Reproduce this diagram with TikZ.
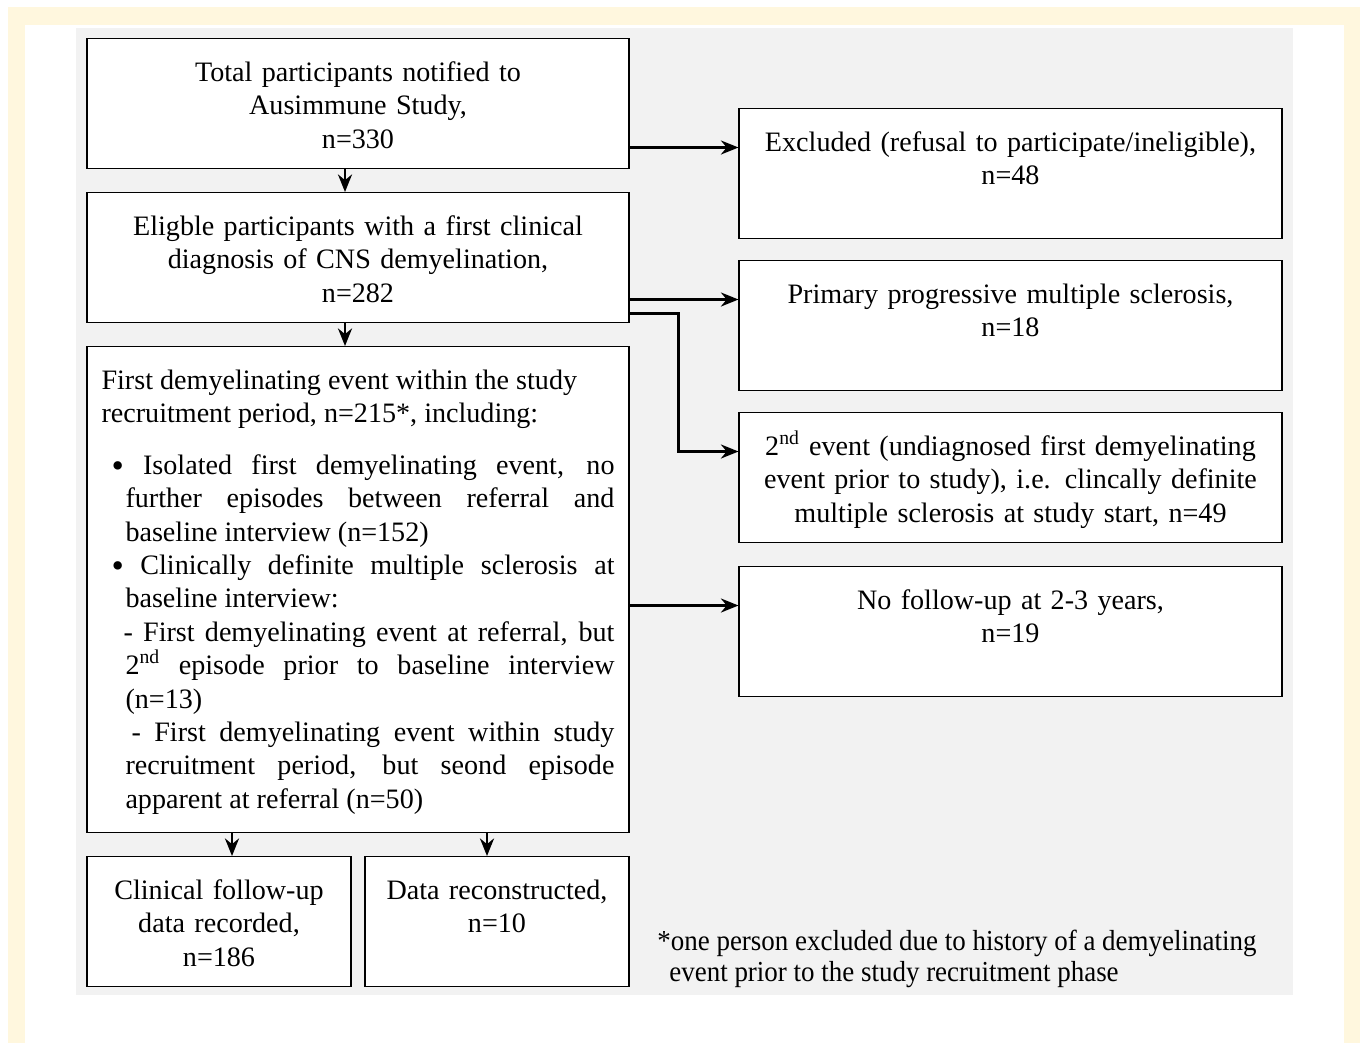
\documentclass[tikz,border=0pt]{standalone}
\usepackage{fontspec}
\setmainfont{Liberation Serif}
\newfontfamily\notefont[FakeStretch=0.93]{Liberation Serif}
\usetikzlibrary{arrows.meta}
\definecolor{cream}{RGB}{255,247,222}
\definecolor{panel}{RGB}{242,242,242}

\begin{document}
\begin{tikzpicture}
	\tikzstyle{Box} = [rectangle, draw=black, semithick, fill=white, anchor=north, inner xsep=0.29cm, inner ysep=0pt, text height=0.86cm, text depth=1.74cm, align=center, font=\fontsize{16}{19}\selectfont]
	\tikzstyle{arrow} = [line width=1.4pt,-{Stealth[length=10pt,width=8pt]}]
	
	\useasboundingbox (0,0) rectangle (27.2,-20.86);
	\fill[cream] (0.16,-0.14) rectangle (27.2,-20.86);
	\fill[white] (0.5,-0.5) rectangle (26.88,-20.86);
	\fill[panel] (1.52,-0.56) rectangle (25.86,-19.9);
	
	% left column
	\node (a) [Box, text width=10.26cm] at (7.16,-0.76) {Total participants notified to\\Ausimmune Study,\\n=330};
	\node (b) [Box, text width=10.26cm] at (7.16,-3.84) {Eligble participants with a first clinical\\diagnosis of CNS demyelination,\\n=282};
	\node (c) [Box, text width=10.26cm, text depth=8.86cm, align=justify] at (7.16,-6.92) {%
		\noindent First demyelinating event within the study\newline recruitment period, n=215*, including:\par
		\vspace{0.36cm}
		\noindent\hangindent=0.48cm\hangafter=1\hspace*{0.2cm}\raisebox{-0.1em}{\scalebox{1.25}{\textbullet}}\ Isolated first demyelinating event, no\linebreak further episodes between referral and\linebreak baseline interview (n=152)\par
		\noindent\hangindent=0.48cm\hangafter=1\hspace*{0.2cm}\raisebox{-0.1em}{\scalebox{1.25}{\textbullet}}\ Clinically definite multiple sclerosis at\linebreak baseline interview:\par
		\noindent\hangindent=0.48cm\hangafter=1\hspace*{0.44cm}- First demyelinating event at referral, but\linebreak 2\textsuperscript{nd} episode prior to baseline interview\linebreak (n=13)\par
		\noindent\hangindent=0.48cm\hangafter=1\hspace*{0.6cm}- First demyelinating event within study\linebreak recruitment period, but seond episode\linebreak apparent at referral (n=50)\par};
	\node (d) [Box, text width=4.70cm] at (4.38,-17.12) {Clinical follow-up\\data recorded,\\n=186};
	\node (e) [Box, text width=4.70cm] at (9.94,-17.12) {Data reconstructed,\\n=10};
	
	% right column
	\node (r1) [Box, text width=10.28cm] at (20.21,-2.16) {Excluded (refusal to participate/ineligible),\\n=48};
	\node (r2) [Box, text width=10.28cm] at (20.21,-5.20) {Primary progressive multiple sclerosis,\\n=18};
	\node (r3) [Box, text width=10.28cm] at (20.21,-8.24) {2\textsuperscript{nd} event (undiagnosed first demyelinating\\event prior to study), i.e. clincally definite\\multiple sclerosis at study start, n=49};
	\node (r4) [Box, text width=10.28cm] at (20.21,-11.32) {No follow-up at 2-3 years,\\n=19};
	
	\node (note) [anchor=base west, align=left, inner sep=0pt, font=\notefont\fontsize{16.5}{17.6}\selectfont] at (13.14,-19.62) {*one person excluded due to history of a demyelinating\\\hspace*{0.24cm}event prior to the study recruitment phase};
	
	% arrows
	\draw[arrow] ([xshift=-0.26cm]a.south) -- ([xshift=-0.26cm]b.north);
	\draw[arrow] ([xshift=-0.26cm]b.south) -- ([xshift=-0.26cm]c.north);
	\draw[arrow] ([xshift=0.26cm]d.north |- c.south) -- ([xshift=0.26cm]d.north);
	\draw[arrow] ([xshift=-0.2cm]e.north |- c.south) -- ([xshift=-0.2cm]e.north);
	\draw[arrow] (a.east |- r1.mid west) -- (r1.mid west);
	\draw[arrow] (b.east |- r2.mid west) -- (r2.mid west);
	\draw[arrow] ([yshift=-0.28cm]r2.mid west -| b.east) -- ++(0.98cm,0) |- (r3.mid west);
	\draw[arrow] (c.east |- r4.mid west) -- (r4.mid west);
\end{tikzpicture}
\end{document}
